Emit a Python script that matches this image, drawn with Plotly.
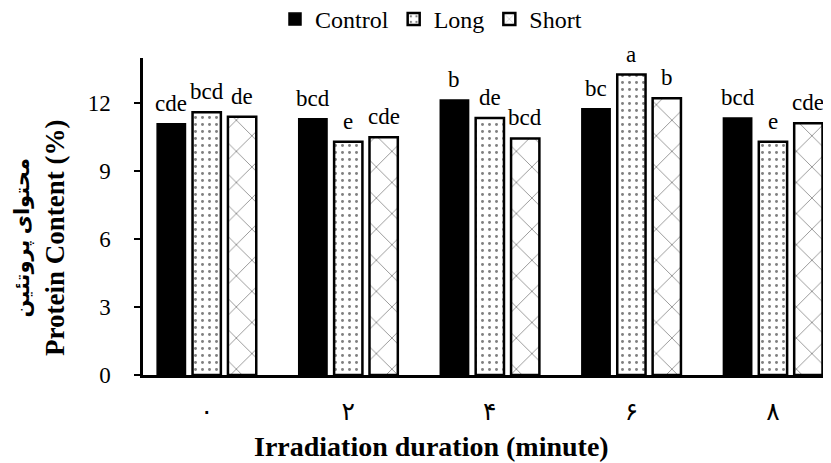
import plotly.graph_objects as go

categories = ["۰", "۲", "۴", "۶", "۸"]
series_names = ["Control", "Long", "Short"]
control = [11.10, 11.32, 12.15, 11.76, 11.35]
long_ = [11.60, 10.30, 11.35, 13.27, 10.30]
short = [11.40, 10.50, 10.45, 12.22, 11.12]
control_letters = ["cde", "bcd", "b", "bc", "bcd"]
long_letters = ["bcd", "e", "de", "a", "e"]
short_letters = ["de", "cde", "bcd", "b", "cde"]
y_ticks = [0, 3, 6, 9, 12]

values = [control, long_, short]
letters = [control_letters, long_letters, short_letters]

serif = "Liberation Serif, Times New Roman, serif"

# The page body has an 8px margin; lay the figure out in page pixels and
# compensate for that offset.
OFF = 8
PAGE_W, PAGE_H = 831, 463
W, H = PAGE_W - OFF, PAGE_H - OFF
AX_LEFT, AX_TOP, AX_BOTTOM = 143, 58, 375          # page pixels
L, T = AX_LEFT - OFF, AX_TOP - OFF
R = 0
B = H - (AX_BOTTOM - OFF)
plot_w = W - L - R
plot_h = H - T - B


def px_to_paper_x(px):
    return (px - OFF - L) / plot_w


def px_to_paper_y(py):
    return (H - B - (py - OFF)) / plot_h


fig = go.Figure()
fig.add_trace(go.Bar(
    name="Control", x=categories, y=control,
    marker=dict(color="black", line=dict(color="black", width=1.5)),
))
fig.add_trace(go.Bar(
    name="Long", x=categories, y=long_,
    marker=dict(color="white", line=dict(color="black", width=2.5),
                pattern=dict(shape=".", fgcolor="black", bgcolor="white",
                             size=7, solidity=0.14, fillmode="overlay")),
))
fig.add_trace(go.Bar(
    name="Short", x=categories, y=short,
    marker=dict(color="white", line=dict(color="black", width=2.5),
                pattern=dict(shape="x", fgcolor="black", bgcolor="white",
                             size=22, solidity=0.07, fillmode="overlay")),
))

bargap = 0.25
slot = (1 - bargap) / 3
annotations = []
for j, (vals, labs) in enumerate(zip(values, letters)):
    for i, (v, lab) in enumerate(zip(vals, labs)):
        annotations.append(dict(
            x=i + (j - 1) * slot, y=v, xref="x", yref="y",
            text=lab, showarrow=False, yanchor="bottom", yshift=6,
            font=dict(family=serif, size=23, color="black"),
        ))

annotations.append(dict(
    x=px_to_paper_x(431), y=px_to_paper_y(446), xref="paper", yref="paper",
    text="<b>Irradiation duration (minute)</b>", showarrow=False,
    xanchor="center", yanchor="middle",
    font=dict(family=serif, size=28, color="black"),
))
annotations.append(dict(
    x=px_to_paper_x(40), y=px_to_paper_y(238), xref="paper", yref="paper",
    text=("<span style='font-size:21px'><b>محتوای پروتئین</b></span><br>"
          "<b>Protein Content (%)</b>"),
    showarrow=False, textangle=-90, xanchor="center", yanchor="middle",
    font=dict(family="Liberation Serif, DejaVu Sans, serif", size=27, color="black"),
))

fig.update_layout(
    width=W, height=H,
    margin=dict(l=L, r=R, t=T, b=B, autoexpand=False),
    paper_bgcolor="white", plot_bgcolor="white",
    barmode="group", bargap=bargap, bargroupgap=0.2,
    font=dict(family=serif, size=22, color="black"),
    showlegend=True,
    legend=dict(orientation="h", xref="paper", yref="paper",
                x=px_to_paper_x(431), xanchor="center",
                y=px_to_paper_y(-3), yanchor="top",
                bgcolor="rgba(0,0,0,0)",
                font=dict(family=serif, size=24, color="black"),
                itemwidth=30, tracegroupgap=0),
    annotations=annotations,
)
fig.update_xaxes(
    type="category", range=[-0.45, 4.41],
    showline=True, linecolor="black", linewidth=2.5,
    ticks="", showgrid=False, zeroline=False, automargin=False,
    tickfont=dict(family="DejaVu Sans, serif", size=25, color="black"),
    ticklabelstandoff=12,
)
fig.update_yaxes(
    range=[0, 14], tickvals=y_ticks,
    showline=True, linecolor="black", linewidth=2.5,
    ticks="outside", ticklen=6, tickwidth=2, tickcolor="black",
    showgrid=False, zeroline=False, automargin=False,
    tickfont=dict(family=serif, size=23, color="black"),
    ticklabelstandoff=19,
)

fig.write_html("out.html")
